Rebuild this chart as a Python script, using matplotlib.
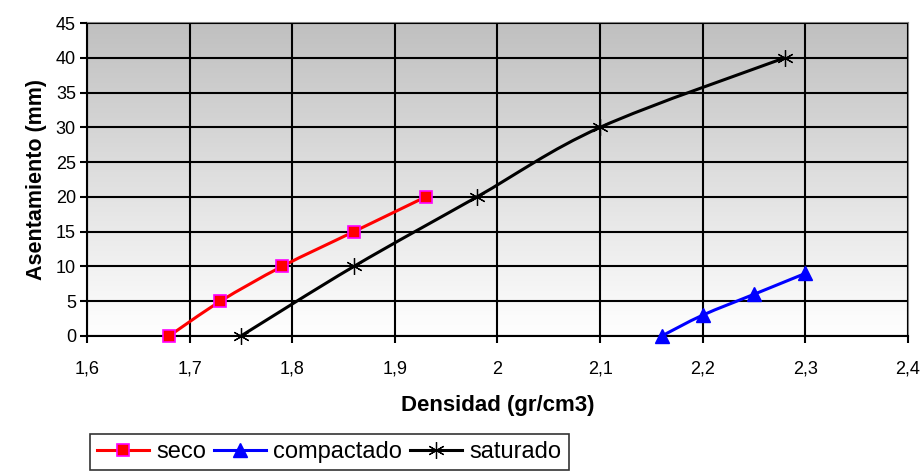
import numpy as np
import matplotlib
matplotlib.use("Agg")
import matplotlib.pyplot as plt
from matplotlib.path import Path
from matplotlib.patches import PathPatch
from matplotlib.lines import Line2D
from matplotlib.ticker import FuncFormatter

plt.rcParams['font.family'] = ['Liberation Sans', 'DejaVu Sans']

# Data
seco_x = [1.68, 1.73, 1.79, 1.86, 1.93]
seco_y = [0, 5, 10, 15, 20]
comp_x = [2.16, 2.20, 2.25, 2.30]
comp_y = [0, 3, 6, 9]
sat_x = [1.75, 1.86, 1.98, 2.10, 2.28]
sat_y = [0, 10, 20, 30, 40]
series_names = ["seco", "compactado", "saturado"]
x_ticks = [1.6, 1.7, 1.8, 1.9, 2.0, 2.1, 2.2, 2.3, 2.4]
y_ticks = list(range(0, 46, 5))

fig = plt.figure(figsize=(9.21, 4.72), dpi=100)
ax = fig.add_axes([87/921, 1-336/472, (908-87)/921, (336-23)/472])

# gradient background
grad = np.linspace(0, 1, 256).reshape(-1, 1)
cmap = matplotlib.colors.LinearSegmentedColormap.from_list("g", ["#ffffff", "#c0c0c0"])
ax.imshow(grad, aspect='auto', cmap=cmap, extent=[0, 1, 0, 1], transform=ax.transAxes,
          origin='lower', zorder=0)

ax.set_xlim(1.6, 2.4)
ax.set_ylim(0, 45)
ax.set_xticks(x_ticks)
ax.set_yticks(y_ticks)
ax.grid(True, color='black', linewidth=1.5, zorder=1)
ax.set_axisbelow(False)

def smooth_path(xs, ys):
    P = np.column_stack([xs, ys]).astype(float)
    n = len(P)
    verts = [P[0]]
    codes = [Path.MOVETO]
    for i in range(n - 1):
        p0 = P[i - 1] if i > 0 else P[i]
        p1 = P[i]
        p2 = P[i + 1]
        p3 = P[i + 2] if i + 2 < n else P[i + 1]
        c1 = p1 + (p2 - p0) / 6
        c2 = p2 - (p3 - p1) / 6
        verts += [c1, c2, p2]
        codes += [Path.CURVE4] * 3
    return Path(verts, codes)

styles = [
    dict(color='#ff0000', marker='s', mfc='#ff0000', mec='#ff00ff', ms=9, mew=1.2),
    dict(color='#0000ff', marker='^', mfc='#0000ff', mec='#0000ff', ms=10, mew=1),
    dict(color='#000000', marker=(6, 2, 0), mfc='none', mec='#000000', ms=12, mew=0.9),
]
data = [(seco_x, seco_y), (comp_x, comp_y), (sat_x, sat_y)]
handles = []
for (xs, ys), st, name in zip(data, styles, series_names):
    ax.add_patch(PathPatch(smooth_path(xs, ys), fill=False, edgecolor=st['color'],
                           linewidth=2.2, zorder=3, clip_on=False))
    ax.plot(xs, ys, linestyle='none', marker=st['marker'], markerfacecolor=st['mfc'],
            markeredgecolor=st['mec'], markersize=st['ms'], markeredgewidth=st['mew'],
            zorder=4, clip_on=False)
    handles.append(Line2D([], [], color=st['color'], linewidth=2.2, marker=st['marker'],
                          markerfacecolor=st['mfc'], markeredgecolor=st['mec'],
                          markersize=st['ms'], markeredgewidth=st['mew'], label=name))

for s in ['top', 'right']:
    ax.spines[s].set_color('#808080')
    ax.spines[s].set_linewidth(1.5)
for s in ['left', 'bottom']:
    ax.spines[s].set_color('black')
    ax.spines[s].set_linewidth(1.5)

ax.tick_params(axis='both', direction='out', length=5, width=1.5, colors='black',
               labelsize=13)
ax.tick_params(axis='x', pad=13)
ax.tick_params(axis='y', pad=3)
ax.xaxis.set_major_formatter(FuncFormatter(lambda v, p: f"{v:g}".replace('.', ',')))

ax.set_xlabel("Densidad (gr/cm3)", fontsize=16, fontweight='bold', labelpad=12)
ax.set_ylabel("Asentamiento (mm)", fontsize=15.5, fontweight='bold', labelpad=6)

leg = fig.legend(handles=handles, loc='upper left', bbox_to_anchor=(90/921, 1-434/472),
                 ncol=3, frameon=True, fancybox=False, edgecolor='black', fontsize=17,
                 handlelength=2.2, handletextpad=0.3, columnspacing=0.35,
                 borderpad=0.3, borderaxespad=0)
leg.get_frame().set_linewidth(1.2)

fig.savefig("out.png", dpi=100)
